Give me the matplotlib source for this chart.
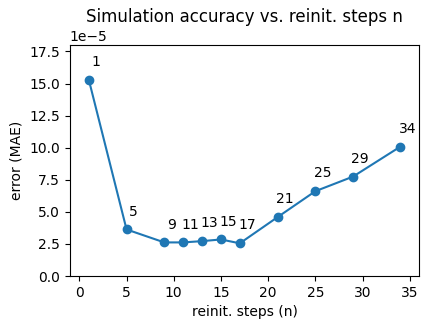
import matplotlib
matplotlib.use("Agg")
import matplotlib.pyplot as plt
from matplotlib.ticker import MultipleLocator

# Pasos de reinicialización y error medido
steps = [1, 5, 9, 11, 13, 15, 17, 21, 25, 29, 34]
mae = [15.3e-5, 3.63e-5, 2.62e-5, 2.62e-5, 2.72e-5, 2.85e-5, 2.55e-5,
       4.59e-5, 6.61e-5, 7.75e-5, 10.08e-5]

plt.figure(figsize=(4.29, 3.29), dpi=100)
plt.plot(steps, mae, marker="o")
for n, e in zip(steps, mae):
    # etiqueta encima de cada punto
    plt.annotate(str(n), (n, e), textcoords="offset points", xytext=(5, 10), ha="center")
plt.xlim(-1, 36)
plt.ylim(0, 18e-5)
plt.gca().yaxis.set_major_locator(MultipleLocator(2.5e-5))
plt.ticklabel_format(axis="y", style="sci", scilimits=(-5, -5))
plt.xlabel("reinit. steps (n)")
plt.ylabel("error (MAE)")
plt.title("Simulation accuracy vs. reinit. steps n")
plt.subplots_adjust(left=0.163, right=0.977, bottom=0.161, top=0.863)
plt.savefig("out.png", dpi=100)
